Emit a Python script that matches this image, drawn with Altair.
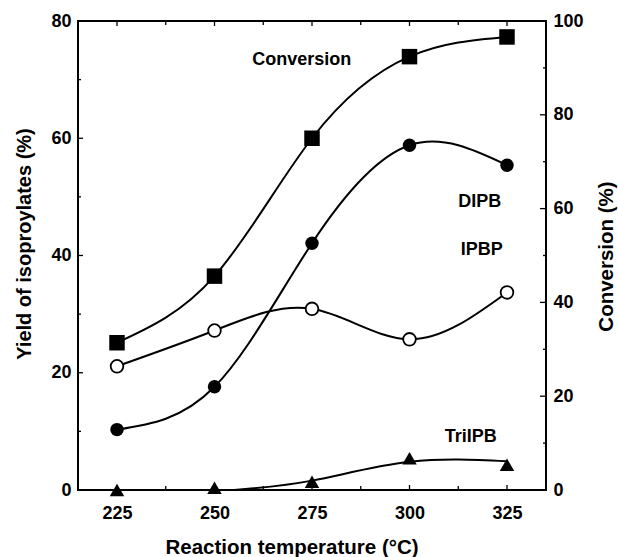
import altair as alt
import pandas as pd

# ---- data ----
temps = [225, 250, 275, 300, 325]
conversion = [31.4, 45.6, 75.0, 92.4, 96.6]      # right axis (%)
dipb = [10.3, 17.6, 42.1, 58.8, 55.4]             # left axis (%)
ipbp = [21.1, 27.2, 30.9, 25.7, 33.7]
triipb = [0.0, 0.4, 1.4, 5.4, 4.3]
# fitted TriIPB curve as drawn in the figure
tri_curve_t = [255, 275, 300, 325]
tri_curve_y = [0.0, 1.6, 4.8, 4.9]

ann_text = ["Conversion", "DIPB", "IPBP", "TriIPB"]
ann_t = [272.4, 318.0, 318.5, 315.7]
ann_y = [73.3, 49.2, 41.0, 9.1]

x_major = [225, 250, 275, 300, 325]
x_minor = [237.5, 262.5, 287.5, 312.5]
left_major = [0, 20, 40, 60, 80]
left_minor = [10, 30, 50, 70]
right_major = [0, 20, 40, 60, 80, 100]
right_minor = [10, 30, 50, 70, 90]

FONT = "Liberation Sans"
W, H = 468, 469

df = pd.DataFrame({"t": temps, "conv": conversion, "dipb": dipb,
                   "ipbp": ipbp, "tri": triipb})
tri_df = pd.DataFrame({"t": tri_curve_t, "y": tri_curve_y})
ann_df = pd.DataFrame({"label": ann_text, "t": ann_t, "y": ann_y})

xscale = alt.Scale(domain=[215, 335], nice=False, zero=False)
xaxis = alt.Axis(values=x_major, tickSize=0, domain=False, grid=False,
                 labelPadding=14, labelFontSize=18, labelFont=FONT,
                 labelFontWeight="bold", title="Reaction temperature (°C)",
                 titleFontSize=20.5, titleFont=FONT, titleFontWeight="bold",
                 titleX=213.5, titleY=63, titleBaseline="alphabetic",
                 labelColor="black", titleColor="black")
X = lambda f="t": alt.X(f"{f}:Q", scale=xscale, axis=xaxis)

lscale = alt.Scale(domain=[0, 80], nice=False)
laxis = alt.Axis(values=left_major, tickSize=0, domain=False, grid=False,
                 labelPadding=7, labelFontSize=18, labelFont=FONT,
                 labelFontWeight="bold", title="Yield of isoproylates (%)",
                 titleFontSize=20, titleFont=FONT, titleFontWeight="bold",
                 titleX=-54, titleY=222.5, titleBaseline="middle", titleAngle=270,
                 labelColor="black", titleColor="black")
YL = lambda f: alt.Y(f"{f}:Q", scale=lscale, axis=laxis)

rscale = alt.Scale(domain=[0, 100], nice=False)
raxis = alt.Axis(values=right_major, orient="right", tickSize=0, domain=False,
                 grid=False, labelPadding=7, labelFontSize=18, labelFont=FONT,
                 labelFontWeight="bold", title="Conversion (%)",
                 titleFontSize=20.5, titleFont=FONT, titleFontWeight="bold",
                 titleX=60, titleY=235, titleBaseline="middle", titleAngle=270,
                 labelColor="black", titleColor="black")
YR = lambda f: alt.Y(f"{f}:Q", scale=rscale, axis=raxis)

base = alt.Chart(df)
line_kw = dict(interpolate="natural", color="black", strokeWidth=2)

dipb_line = base.mark_line(**line_kw).encode(x=X(), y=YL("dipb"))
dipb_pts = base.mark_point(shape="circle", filled=True, color="black",
                           size=180, opacity=1).encode(x=X(), y=YL("dipb"))
ipbp_line = base.mark_line(**line_kw).encode(x=X(), y=YL("ipbp"))
ipbp_pts = base.mark_point(shape="circle", fill="white", stroke="black",
                           strokeWidth=1.8, size=160, opacity=1,
                           fillOpacity=1).encode(x=X(), y=YL("ipbp"))
tri_line = alt.Chart(tri_df).mark_line(**line_kw).encode(x=X(), y=YL("y"))
tri_pts = base.mark_point(shape="triangle-up", filled=True, color="black",
                          size=210, opacity=1).encode(x=X(), y=YL("tri"))
ann = alt.Chart(ann_df).mark_text(font=FONT, fontSize=18, fontWeight="bold",
                                  color="black").encode(
    x=X(), y=YL("y"), text="label:N")

def xticks(vals, length):
    d = pd.DataFrame({"t": vals})
    bot = alt.Chart(d).mark_rule(color="black", strokeWidth=1.3).encode(
        x=X(), y=alt.value(H), y2=alt.value(H - length))
    top = alt.Chart(d).mark_rule(color="black", strokeWidth=1.3).encode(
        x=X(), y=alt.value(0), y2=alt.value(length))
    return bot + top

def lticks(vals, length):
    d = pd.DataFrame({"v": vals})
    return alt.Chart(d).mark_rule(color="black", strokeWidth=1.3).encode(
        y=YL("v"), x=alt.value(0), x2=alt.value(length))

def rticks(vals, length):
    d = pd.DataFrame({"v": vals})
    return alt.Chart(d).mark_rule(color="black", strokeWidth=1.3).encode(
        y=YR("v"), x=alt.value(W), x2=alt.value(W - length))

left = alt.layer(dipb_line, ipbp_line, tri_line,
                 xticks(x_major, 5), xticks(x_minor, 4),
                 lticks(left_major, 5), lticks(left_minor, 3),
                 dipb_pts, ipbp_pts, tri_pts, ann)

conv_line = base.mark_line(**line_kw).encode(x=X(), y=YR("conv"))
conv_pts = base.mark_point(shape="square", filled=True, color="black",
                           size=240, opacity=1).encode(x=X(), y=YR("conv"))
right = alt.layer(conv_line, rticks(right_major, 6), rticks(right_minor, 3),
                  conv_pts)

chart = alt.layer(left, right).resolve_scale(y="independent").properties(
    width=W, height=H, autosize="none",
    padding={"left": 78, "top": 21, "right": 72, "bottom": 67},
    background="white"
).configure_view(stroke="black", strokeWidth=2)

chart.save("out.html", embed_options={"renderer": "svg", "actions": False})
